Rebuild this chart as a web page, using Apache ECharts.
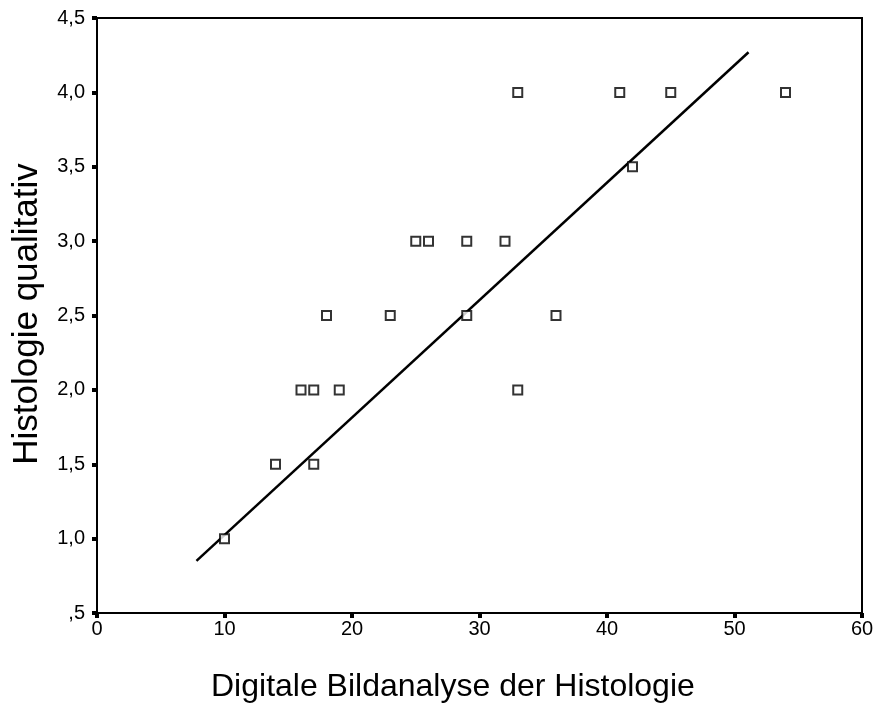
<!DOCTYPE html>
<html>
<head>
<meta charset="utf-8">
<script src="https://cdn.jsdelivr.net/npm/echarts@6/dist/echarts.min.js"></script>
<style>
html,body{margin:0;padding:0;background:#fff;}
#c{width:878px;height:709px;}
</style>
</head>
<body>
<div id="c"></div>
<script>
// Data
var xValues = [10, 14, 16, 17, 17, 18, 19, 23, 25, 26, 29, 29, 32, 33, 33, 36, 41, 42, 45, 54];
var yValues = [1.0, 1.5, 2.0, 2.0, 1.5, 2.5, 2.0, 2.5, 3.0, 3.0, 3.0, 2.5, 3.0, 4.0, 2.0, 2.5, 4.0, 3.5, 4.0, 4.0];
var fitX = [7.8, 51.1];
var fitY = [0.85, 4.27];
var xTitle = 'Digitale Bildanalyse der Histologie';
var yTitle = 'Histologie qualitativ';

var points = xValues.map(function (x, i) { return [x, yValues[i]]; });
var fitLine = fitX.map(function (x, i) { return [x, fitY[i]]; });

var font = 'Liberation Sans, Arial, Helvetica, sans-serif';
var chart = echarts.init(document.getElementById('c'), null, {renderer: 'canvas'});
chart.setOption({
  backgroundColor: '#fff',
  animation: false,
  grid: {left: 97, top: 18, right: 16, bottom: 96, show: true, borderColor: '#000', borderWidth: 2, backgroundColor: 'transparent'},
  graphic: [
    {
      type: 'text', left: 211, top: 671,
      style: {text: xTitle, font: '32px ' + font, fill: '#000'}
    },
    {
      type: 'text', x: 27, y: 314, rotation: Math.PI / 2,
      style: {text: yTitle, font: '35px ' + font, fill: '#000', align: 'center', verticalAlign: 'middle'}
    }
  ],
  xAxis: {
    type: 'value', min: 0, max: 60, interval: 10,
    axisLine: {show: true, onZero: false, lineStyle: {color: '#000', width: 2}},
    axisTick: {show: true, length: 5, lineStyle: {color: '#000', width: 4}},
    axisLabel: {fontFamily: font, fontSize: 20, color: '#000', margin: 6},
    splitLine: {show: false}
  },
  yAxis: {
    type: 'value', min: 0.5, max: 4.5, interval: 0.5,
    axisLine: {show: true, onZero: false, lineStyle: {color: '#000', width: 2}},
    axisTick: {show: true, length: 5, lineStyle: {color: '#000', width: 4}},
    axisLabel: {
      fontFamily: font, fontSize: 20, color: '#000', margin: 12,
      formatter: function (v) {
        var s = v.toFixed(1).replace('.', ',');
        if (s.indexOf('0,') === 0) s = s.substring(1);
        return s;
      }
    },
    splitLine: {show: false}
  },
  series: [
    {
      type: 'line', data: fitLine, symbol: 'none',
      lineStyle: {color: '#000', width: 2.5}, z: 2
    },
    {
      type: 'scatter', data: points, symbol: 'rect', symbolSize: 9,
      itemStyle: {color: '#fff', borderColor: '#000', borderWidth: 2}, z: 3
    }
  ]
});
</script>
</body>
</html>
